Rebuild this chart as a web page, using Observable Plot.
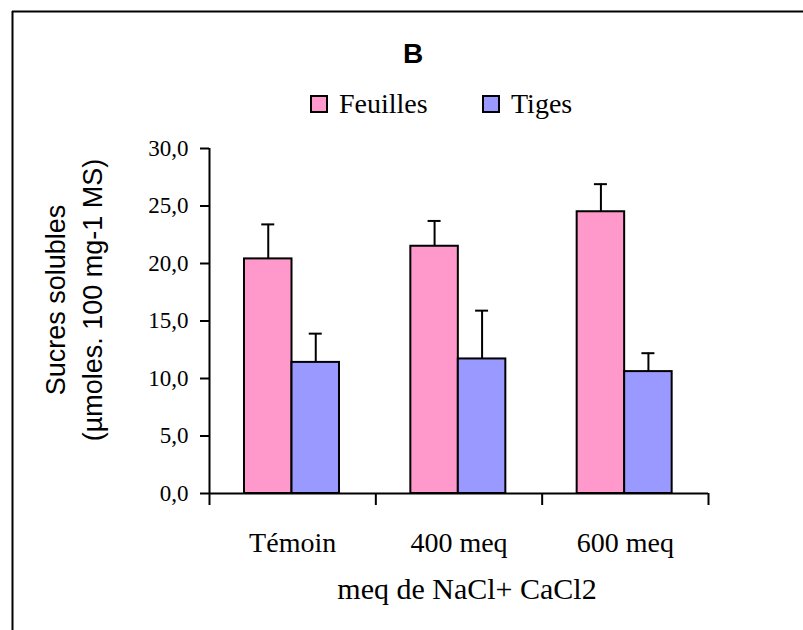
<!DOCTYPE html>
<html>
<head>
<meta charset="utf-8">
<script src="https://cdn.jsdelivr.net/npm/d3@7"></script>
<script src="https://cdn.jsdelivr.net/npm/@observablehq/plot@0.6"></script>
<style>
  html, body { margin: 0; padding: 0; background: #fff; }
  #chart { width: 803px; height: 630px; }
  svg { display: block; }
</style>
</head>
<body>
<div id="chart"></div>
<script>
// ---- data ----
const categories = ["Témoin", "400 meq", "600 meq"];
const series = ["Feuilles", "Tiges"];
const feuilles = [20.4, 21.5, 24.5];
const feuillesErr = [3.0, 2.2, 2.4];
const tiges = [11.4, 11.7, 10.6];
const tigesErr = [2.5, 4.2, 1.6];
const yTicks = [0, 5, 10, 15, 20, 25, 30];
const chartTitle = "B";
const yTitle = ["Sucres solubles", "(µmoles. 100 mg-1 MS)"];
const xTitle = "meq de NaCl+ CaCl2";
const colors = ["#FF99CC", "#9999FF"];

// ---- layout ----
const W = 803, H = 630;
const mL = 209, mR = 95, mT = 148, mB = 137;
const BW = (W - mL - mR) / categories.length;
const barW = 47.5, gapL = 35;
const capW = 13;
const serif = "'Liberation Serif', 'Times New Roman', serif";
const sans = "'Liberation Sans', Arial, sans-serif";

const rows = [];
categories.forEach((c, i) => {
  rows.push({cat: c, series: "Feuilles", value: feuilles[i], err: feuillesErr[i]});
  rows.push({cat: c, series: "Tiges", value: tiges[i], err: tigesErr[i]});
});

const seriesMarks = series.flatMap((s, k) => {
  const d = rows.filter(r => r.series === s);
  const left = gapL + k * barW;
  const right = BW - left - barW;
  const center = left + barW / 2;
  return [
    Plot.ruleX(d, {x: "cat", y1: "value", y2: r => r.value + r.err, dx: center - BW / 2, stroke: "black", strokeWidth: 2}),
    Plot.tickY(d, {x: "cat", y: r => r.value + r.err, insetLeft: center - capW / 2, insetRight: BW - center - capW / 2, stroke: "black", strokeWidth: 2}),
    Plot.barY(d, {x: "cat", y: "value", fill: "series", stroke: "black", strokeWidth: 2, insetLeft: left, insetRight: right})
  ];
});

const plot = Plot.plot({
  width: W,
  height: H,
  marginLeft: mL,
  marginRight: mR,
  marginTop: mT,
  marginBottom: mB,
  style: {background: "#fff", color: "#000", overflow: "visible"},
  x: {domain: categories, padding: 0, round: false, label: null, axis: null},
  y: {domain: [0, 30], label: null, axis: null},
  color: {domain: series, range: colors},
  marks: [
    ...seriesMarks,
    // axis lines
    Plot.ruleY([0], {stroke: "black", strokeWidth: 2}),
    Plot.ruleX([categories[0]], {x: d => d, y1: 0, y2: 30, dx: -BW / 2, stroke: "black", strokeWidth: 2}),
    // y axis ticks & labels
    Plot.axisY(yTicks, {
      tickSize: 9, tickPadding: 12, strokeWidth: 2,
      tickFormat: d => d.toFixed(1).replace(".", ","),
      fontSize: 23, fontFamily: serif, label: null
    }),
    // x boundary ticks
    Plot.axisX(categories, {tickSize: 12, tickFormat: () => "", dx: -BW / 2, strokeWidth: 2, label: null}),
    Plot.axisX([categories[categories.length - 1]], {tickSize: 12, tickFormat: () => "", dx: BW / 2, strokeWidth: 2, label: null}),
    // x category labels
    Plot.axisX(categories, {tickSize: 0, tickPadding: 39, fontSize: 28, fontFamily: serif, label: null})
  ]
});

const svg = d3.select(plot);
svg.style("font-family", serif);

// frame (top and left edges)
svg.append("line").attr("x1", 12).attr("y1", 11.5).attr("x2", W).attr("y2", 11.5).attr("stroke", "#000").attr("stroke-width", 2);
svg.append("line").attr("x1", 12.5).attr("y1", 11).attr("x2", 12.5).attr("y2", H).attr("stroke", "#000").attr("stroke-width", 2);

// title
svg.append("text").attr("x", 413).attr("y", 63).attr("text-anchor", "middle")
  .style("font-family", sans).style("font-weight", "bold").style("font-size", "28px").text(chartTitle);

// legend
const legendX = [311, 483];
series.forEach((s, k) => {
  svg.append("rect").attr("x", legendX[k]).attr("y", 96).attr("width", 16).attr("height", 16)
    .attr("fill", colors[k]).attr("stroke", "#000").attr("stroke-width", 2);
  svg.append("text").attr("x", legendX[k] + 28).attr("y", 113).attr("text-anchor", "start")
    .style("font-family", serif).style("font-size", "28px").text(s);
});

// y title
const yt = svg.append("text").attr("transform", "translate(0,300) rotate(-90)")
  .attr("text-anchor", "middle").style("font-family", sans).style("font-size", "27px");
yt.append("tspan").attr("x", 0).attr("y", 65).text(yTitle[0]);
yt.append("tspan").attr("x", 0).attr("y", 102).text(yTitle[1]);

// x title
svg.append("text").attr("x", 467).attr("y", 599).attr("text-anchor", "middle")
  .style("font-family", serif).style("font-size", "30px").text(xTitle);

document.getElementById("chart").appendChild(plot);
</script>
</body>
</html>
